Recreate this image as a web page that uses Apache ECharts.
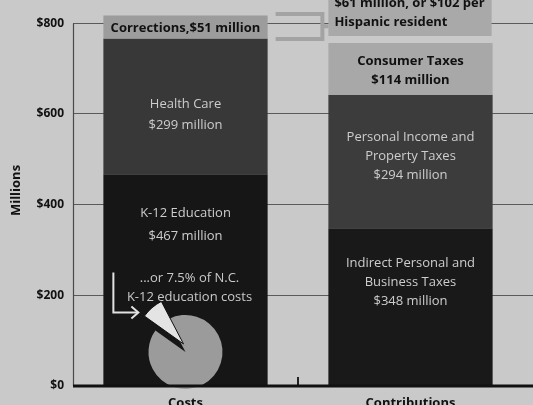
<!DOCTYPE html>
<html>
<head>
<meta charset="utf-8">
<script src="https://cdn.jsdelivr.net/npm/echarts@6/dist/echarts.min.js"></script>
<style>
html,body{margin:0;padding:0;background:#c9c9c9;}
#main{width:533px;height:405px;}
</style>
</head>
<body>
<div id="main"></div>
<script>
// ---- data ----
const categories = ['Costs', 'Contributions'];
const k12 = [467, null];
const health = [299, null];
const corrections = [51, null];
const indirect = [null, 348];
const personal = [null, 294];
const consumer = [null, 114];
const shortfall = [null, 61];
const yTicks = [0, 200, 400, 600, 800];
const pieShare = [7.5, 92.5];

const FONT = 'Open Sans';
const chart = echarts.init(document.getElementById('main'), null, {renderer: 'canvas'});

function bar(name, data, color, label) {
  return {
    name: name, type: 'bar', stack: 'total', data: data, barWidth: '73%',
    itemStyle: {color: color}, label: label, silent: true, animation: false
  };
}
const lightText = {color: '#cdcdcd', fontFamily: FONT, fontSize: 13, lineHeight: 20};
const darkBold = {color: '#111', fontFamily: FONT, fontSize: 13, fontWeight: 'bold', lineHeight: 19};

const option = {
  backgroundColor: '#c9c9c9',
  animation: false,
  grid: {left: 73, right: 10, top: -5, bottom: 19, outerBoundsMode: 'none', containLabel: false},
  xAxis: {
    type: 'category', data: categories,
    axisLine: {show: false},
    axisTick: {show: false},
    axisLabel: {color: '#111', fontFamily: FONT, fontSize: 13, fontWeight: 'bold', margin: 11}
  },
  yAxis: {
    type: 'value', min: 0, max: 862, interval: 200,
    name: 'Millions', nameLocation: 'middle', nameRotate: 90, nameGap: 50,
    nameTextStyle: {color: '#111', fontFamily: FONT, fontSize: 13, fontWeight: 'bold'},
    axisLine: {show: false}, axisTick: {show: false},
    axisLabel: {color: '#111', fontFamily: FONT, fontSize: 12, fontWeight: 'bold', margin: 9,
      formatter: v => (yTicks.indexOf(v) >= 0 ? '$' + v : '')},
    splitLine: {show: false}
  },
  series: [
    bar('K-12 Education', k12, '#161616', Object.assign({show: true, position: 'insideTop', distance: 28,
      formatter: 'K-12 Education\n${c} million'}, lightText, {lineHeight: 23})),
    bar('Health Care', health, '#383838', Object.assign({show: true, position: 'inside', offset: [0, 8],
      formatter: 'Health Care\n${c} million'}, lightText, {lineHeight: 21})),
    bar('Corrections', corrections, '#9c9c9c', Object.assign({show: true, position: 'inside', offset: [0, 1],
      formatter: 'Corrections,${c} million'}, darkBold)),
    bar('Indirect Personal and Business Taxes', indirect, '#191919', Object.assign({show: true, position: 'insideTop', distance: 26,
      formatter: 'Indirect Personal and\nBusiness Taxes\n${c} million'}, lightText, {lineHeight: 19})),
    bar('Personal Income and Property Taxes', personal, '#3c3c3c', Object.assign({show: true, position: 'inside', offset: [0, -5],
      formatter: 'Personal Income and\nProperty Taxes\n${c} million'}, lightText, {lineHeight: 19})),
    bar('Consumer Taxes', consumer, '#a8a8a8', Object.assign({show: true, position: 'inside', offset: [0, 2],
      formatter: 'Consumer Taxes\n${c} million'}, darkBold)),
    {
      name: 'Shortfall', type: 'bar', stack: 'total', data: shortfall, barWidth: '73%',
      itemStyle: {color: 'transparent'}, silent: true, animation: false,
      label: Object.assign({show: true, position: 'insideBottomLeft', distance: 0, offset: [0, -7],
        formatter: '${c} million, or $102 per\nHispanic resident', align: 'left',
        backgroundColor: '#a9a9a9', padding: [6, 7, 4, 6]}, darkBold)
    }
  ]
};
chart.setOption(option);

// ---- annotations positioned through the library's scales ----
const px = (cat, v) => chart.convertToPixel({xAxisIndex: 0, yAxisIndex: 0}, [cat, v]);
const yPix = v => px(categories[0], v)[1];
const crisp = y => Math.floor(y) + 0.5;
const xC0 = px(categories[0], 0)[0];
const xC1 = px(categories[1], 0)[0];
const band = xC1 - xC0;
const bw = band * 0.73;
const gridLeft = xC0 - band / 2;
const W = chart.getWidth();

const pieCenter = px(categories[0], 75);
const graphics = [];
// horizontal grid lines at the tick values, across to the right edge
yTicks.forEach(t => {
  if (t === 0) return;
  const yy = crisp(yPix(t));
  graphics.push({type: 'line', silent: true, z: 0,
    shape: {x1: gridLeft, y1: yy, x2: W, y2: yy},
    style: {stroke: '#5a5a5a', lineWidth: 1}});
});
// baseline (drawn on top of bars)
graphics.push({type: 'line', silent: true, z: 8,
  shape: {x1: gridLeft, y1: yPix(0), x2: W, y2: yPix(0)},
  style: {stroke: '#111', lineWidth: 3}});
// category divider tick
graphics.push({type: 'line', silent: true, z: 1,
  shape: {x1: gridLeft + band, y1: yPix(0), x2: gridLeft + band, y2: yPix(0) - 9},
  style: {stroke: '#222', lineWidth: 2}});
// vertical axis line from 0 to 800
graphics.push({type: 'line', silent: true, z: 1,
  shape: {x1: Math.round(gridLeft) + 0.5, y1: crisp(yPix(yTicks[yTicks.length - 1])), x2: Math.round(gridLeft) + 0.5, y2: yPix(0)},
  style: {stroke: '#4a4a4a', lineWidth: 1.2}});
// bracket connecting Corrections to the shortfall box
const bx1 = xC0 + bw / 2 + 8, bx2 = xC1 - bw / 2 - 6;
graphics.push({type: 'polyline', silent: true, z: 3,
  shape: {points: [[bx1, yPix(820)], [bx2, yPix(820)], [bx2, yPix(765)], [bx1, yPix(765)]]},
  style: {stroke: '#a3a3a3', lineWidth: 4, fill: null}});
graphics.push({type: 'line', silent: true, z: 3,
  shape: {x1: bx2, y1: yPix(793), x2: xC1 - bw / 2, y2: yPix(793)},
  style: {stroke: '#a3a3a3', lineWidth: 4}});
// note text
graphics.push({type: 'text', silent: true, z: 10,
  style: {text: '...or 7.5% of N.C.\nK-12 education costs', x: xC0 + 4, y: yPix(216),
    textAlign: 'center', textVerticalAlign: 'middle', fill: '#c9c9c9',
    font: '13px "Open Sans"', lineHeight: 19}});
// arrow
const ax = xC0 - bw / 2 + 10;
graphics.push({type: 'polyline', silent: true, z: 10,
  shape: {points: [[ax, yPix(250)], [ax, yPix(162)], [ax + 24, yPix(162)]]},
  style: {stroke: '#e2e2e2', lineWidth: 2, fill: null}});
graphics.push({type: 'polyline', silent: true, z: 10,
  shape: {points: [[ax + 18, yPix(162) - 6], [ax + 25, yPix(162)], [ax + 18, yPix(162) + 6]]},
  style: {stroke: '#e2e2e2', lineWidth: 2, fill: null}});

chart.setOption({
  graphic: graphics,
  series: option.series.concat([
    {
      type: 'pie', silent: true, animation: false, z: 5,
      center: [pieCenter[0], pieCenter[1]], radius: 37, startAngle: 144.5,
      label: {show: false}, labelLine: {show: false},
      data: [
        {value: pieShare[0], name: 'N.C. share gap', itemStyle: {color: 'transparent'}},
        {value: pieShare[1], name: 'Rest', itemStyle: {color: '#9b9b9b'}}
      ]
    },
    {
      type: 'pie', silent: true, animation: false, z: 6,
      center: [pieCenter[0] - 2, pieCenter[1] - 8], radius: 48, startAngle: 144.5,
      label: {show: false}, labelLine: {show: false},
      data: [
        {value: pieShare[0], name: 'Hispanic share', itemStyle: {color: '#e4e4e4', borderColor: '#111', borderWidth: 1}},
        {value: pieShare[1], name: 'Other', itemStyle: {color: 'transparent', borderWidth: 0}}
      ]
    }
  ])
});
</script>
</body>
</html>
